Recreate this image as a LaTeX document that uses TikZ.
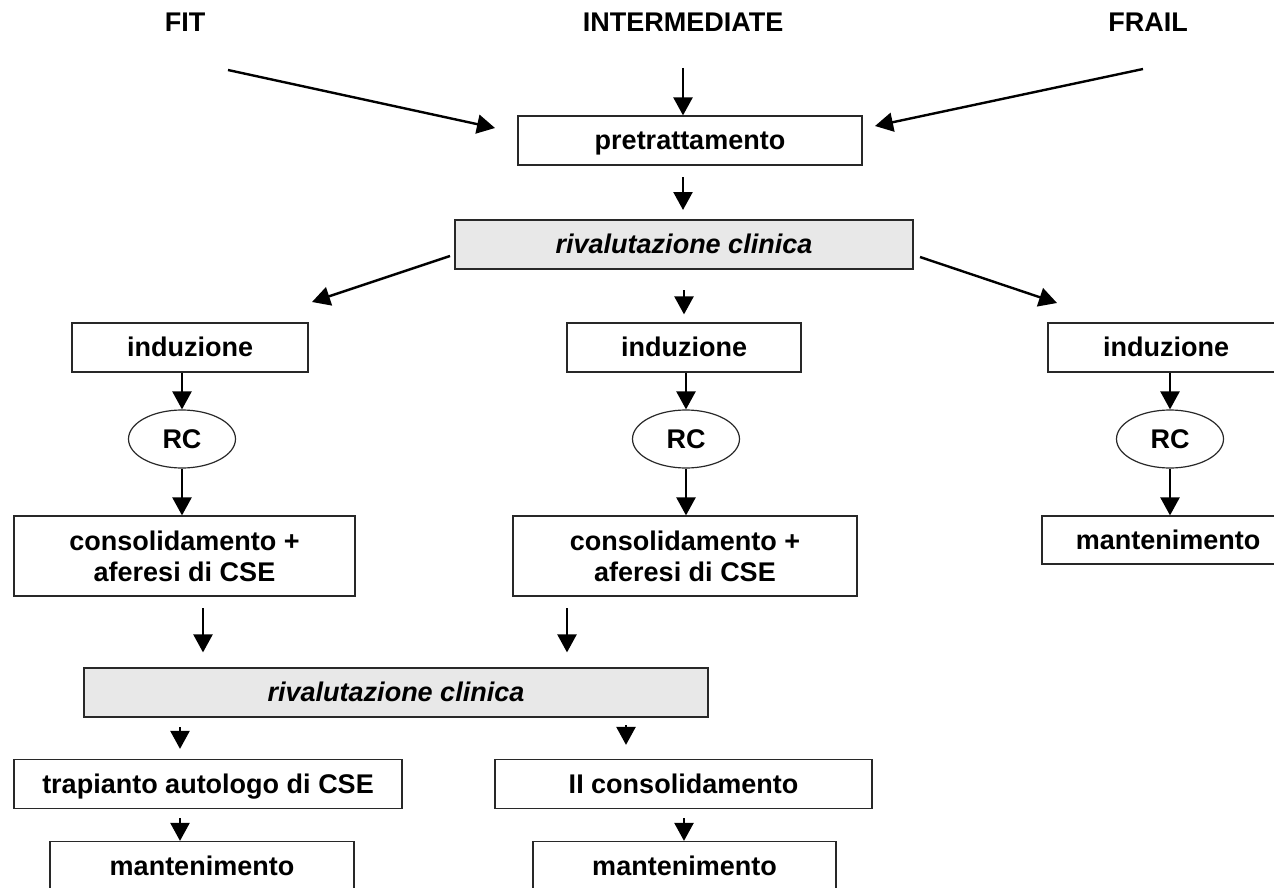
\documentclass[tikz,border=0pt]{standalone}
\usepackage{fontspec}
\setmainfont{Liberation Sans}
\usetikzlibrary{arrows.meta,shapes.geometric}
\definecolor{evalgray}{RGB}{232,232,232}
\definecolor{edgegray}{RGB}{40,40,40}
\tikzset{
  base/.style={font=\fontsize{13.5}{15.5}\selectfont\bfseries, inner sep=0pt},
  oneline/.style={text height=9.7pt, text depth=0.7pt},
  lbl/.style={base, oneline},
  twobox/.style={base, draw=edgegray, line width=0.6pt, align=center, minimum height=40pt},
  box/.style={lbl, draw=edgegray, line width=0.6pt, minimum height=24.5pt},
  evalbox/.style={box, fill=evalgray, font=\fontsize{13.5}{15.5}\selectfont\bfseries\itshape},
  rcnode/.style={lbl, draw=edgegray, line width=0.6pt, ellipse, minimum width=53.5pt, minimum height=29pt},
  arr/.style={-{Triangle[length=9pt,width=9.5pt]}, line width=1.2pt}
}
\begin{document}
\begin{tikzpicture}[x=0.5pt,y=-0.5pt]
\clip (0,0) rectangle (1274,888);
\node[lbl] (fit) at (185,22.5) {FIT};
\node[lbl] (inter) at (683,22.5) {INTERMEDIATE};
\node[lbl] (frail) at (1148,22.5) {FRAIL};
\node[box, minimum width=172pt] (pre) at (690,140.5) {pretrattamento};
\node[evalbox, minimum width=229pt] (riv1) at (684,244.5) {rivalutazione clinica};
\node[box, minimum width=118pt] (ind1) at (190,347.5) {induzione};
\node[box, minimum width=117pt] (ind2) at (684,347.5) {induzione};
\node[box, minimum width=118pt] (ind3) at (1166,347.5) {induzione};
\node[rcnode] (rc1) at (182,439) {RC};
\node[rcnode] (rc2) at (686,439) {RC};
\node[rcnode] (rc3) at (1170,439) {RC};
\node[twobox, minimum width=170.5pt] (cons1) at (184.5,556) {consolidamento +\\aferesi di CSE};
\node[twobox, minimum width=172pt] (cons2) at (685,556) {consolidamento +\\aferesi di CSE};
\node[box, minimum width=126pt, minimum height=24pt] (mant3) at (1168,540) {mantenimento};
\node[evalbox, minimum width=312pt] (riv2) at (396,692.5) {rivalutazione clinica};
\node[box, minimum width=194pt] (trap) at (208,784) {trapianto autologo di CSE};
\node[box, minimum width=188.5pt] (cons3) at (683.5,784) {II consolidamento};
\node[box, minimum width=152pt] (mant1) at (202,866) {mantenimento};
\node[box, minimum width=151.5pt] (mant2) at (684.5,866) {mantenimento};
\coordinate (fitA) at (228,70);
\coordinate (fitB) at (495,128);
\coordinate (interA) at (683,68);
\coordinate (frailA) at (1143,69);
\coordinate (frailB) at (875,126);
\coordinate (preA) at (683,177);
\coordinate (preB) at (683,210);
\coordinate (rivL) at (450,256);
\coordinate (rivM) at (684,290);
\coordinate (rivR) at (920,257);
\coordinate (indL) at (312,302);
\coordinate (indR) at (1057,303);
\coordinate (consA) at (203,608);
\coordinate (consB) at (567,608);
\coordinate (trapA) at (180,727);
\coordinate (cons3A) at (626,725);
\coordinate (mant1A) at (180,818);
\coordinate (mant2A) at (684,818);
\draw[arr] (fitA) -- (fitB);
\draw[arr] (interA) -- (interA |- pre.north);
\draw[arr] (frailA) -- (frailB);
\draw[arr] (preA) -- (preB);
\draw[arr] (rivL) -- (indL);
\draw[arr] (rivM) -- ([yshift=4pt]rivM |- ind2.north);
\draw[arr] (rivR) -- (indR);
\foreach \i in {1,2,3} {\draw[arr] (rc\i.north |- ind\i.south) -- (rc\i.north);}
\draw[arr] (rc1.south) -- (rc1.south |- cons1.north);
\draw[arr] (rc2.south) -- (rc2.south |- cons2.north);
\draw[arr] (rc3.south) -- (rc3.south |- mant3.north);
\draw[arr] (consA) -- ([yshift=7.5pt]consA |- riv2.north);
\draw[arr] (consB) -- ([yshift=7.5pt]consB |- riv2.north);
\draw[arr] (trapA) -- ([yshift=5pt]trapA |- trap.north);
\draw[arr] (cons3A) -- ([yshift=7pt]cons3A |- cons3.north);
\draw[arr] (mant1A) -- (mant1A |- mant1.north);
\draw[arr] (mant2A) -- (mant2A |- mant2.north);
\end{tikzpicture}
\end{document}
